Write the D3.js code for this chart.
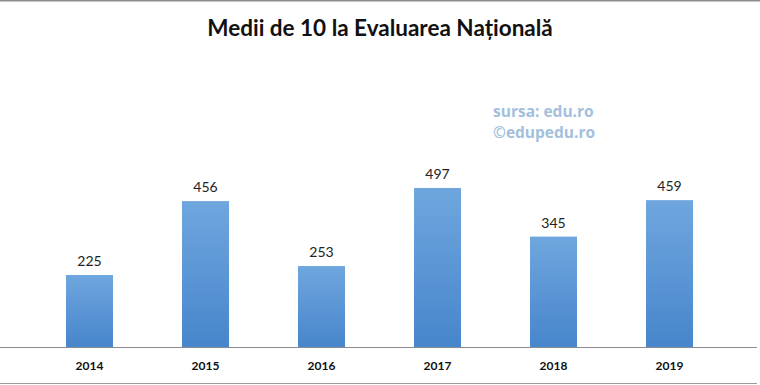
<!DOCTYPE html>
<html><head><meta charset="utf-8">
<script src="https://cdn.jsdelivr.net/npm/d3@7"></script>
<style>body{margin:0;background:#fff}svg{display:block}</style>
</head><body>
<svg id="c" width="760" height="385"></svg>
<script>
const categories = ["2014","2015","2016","2017","2018","2019"];
const values = [225, 456, 253, 497, 345, 459];
const title = "Medii de 10 la Evaluarea Națională";
const notes = ["sursa: edu.ro", "©edupedu.ro"];

const svg = d3.select("#c");
const W = 760, H = 385;
svg.append("rect").attr("width", W).attr("height", H).attr("fill", "#fff");
svg.append("line").attr("x1",0).attr("x2",W).attr("y1",0.5).attr("y2",0.5).attr("stroke","#8c8c8c").attr("stroke-width",2);

const defs = svg.append("defs");
const g = defs.append("linearGradient").attr("id","bg").attr("x1",0).attr("x2",0).attr("y1",0).attr("y2",1);
g.append("stop").attr("offset","0%").attr("stop-color","#6fa6de");
g.append("stop").attr("offset","100%").attr("stop-color","#4786cc");

const x = d3.scaleBand().domain(categories).range([31.5, 727.5]).paddingInner(0.595).paddingOuter(0.2975);
const y = d3.scaleLinear().domain([0, 600]).range([347, 155]);

svg.append("text").attr("x", 380).attr("y", 36).attr("text-anchor","middle")
  .attr("font-family","Lato, 'Open Sans', sans-serif").attr("font-weight","bold").attr("font-size",22.5)
  .attr("fill","#111").text(title);

svg.append("g").selectAll("rect").data(values).join("rect")
  .attr("x",(d,i)=>x(categories[i])).attr("width",x.bandwidth())
  .attr("y",d=>y(d)).attr("height",d=>y(0)-y(d)).attr("fill","url(#bg)");

svg.append("g").selectAll("text").data(values).join("text")
  .attr("x",(d,i)=>x(categories[i])+x.bandwidth()/2).attr("y",d=>y(d)-9)
  .attr("text-anchor","middle").attr("font-family","Lato, sans-serif").attr("font-size",14)
  .attr("fill","#222").text(d=>d);

const axis = svg.append("g").attr("transform","translate(0,347)")
  .call(d3.axisBottom(x).tickSize(0).tickPadding(14));
axis.select(".domain").remove();
axis.selectAll("text").attr("font-family","Lato, sans-serif").attr("font-weight","bold").attr("font-size",12).attr("fill","#111");
svg.append("line").attr("x1",0).attr("x2",757).attr("y1",347.5).attr("y2",347.5).attr("stroke","#8c8c8c");
svg.append("line").attr("x1",0).attr("x2",757).attr("y1",383.5).attr("y2",383.5).attr("stroke","#9a9a9a");

svg.append("g").selectAll("text").data(notes).join("text")
  .attr("x",493).attr("y",(d,i)=>117+i*21)
  .attr("font-family","'Open Sans', sans-serif").attr("font-weight","bold").attr("font-size",15.5)
  .attr("fill","#a3bfdd").text(d=>d);
</script>
</body></html>
